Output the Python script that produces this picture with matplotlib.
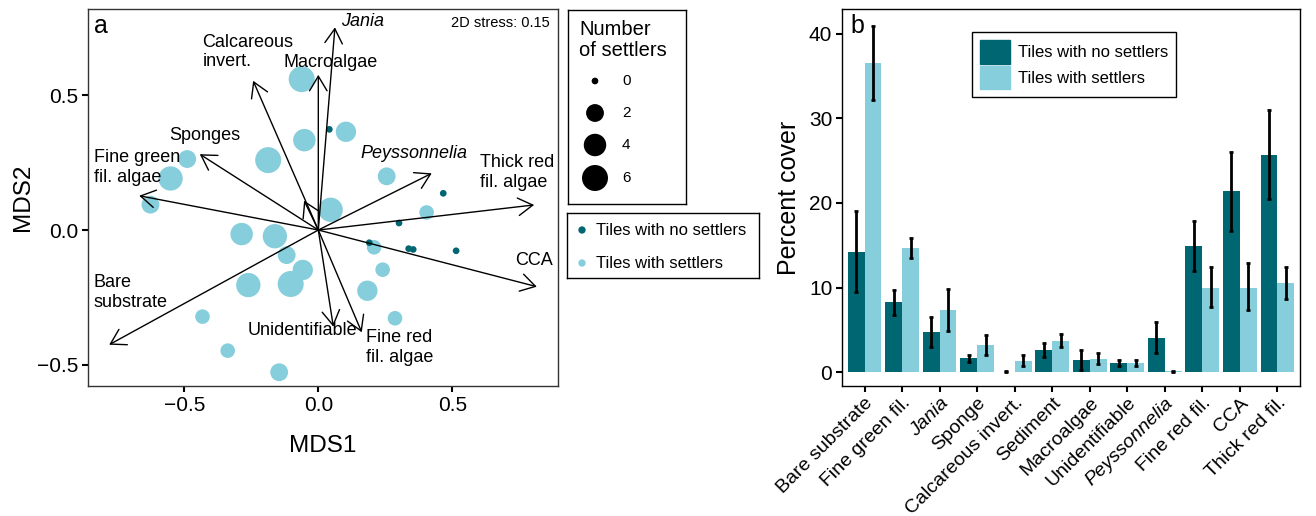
import numpy as np
import matplotlib
matplotlib.use('Agg')
import matplotlib.pyplot as plt
from matplotlib.patches import Patch

plt.rcParams['font.family'] = ['Liberation Sans', 'DejaVu Sans']

dark = '#006671'
light = '#86CEDC'

# panel a: NMDS site scores
nos_x = [0.041, 0.466, 0.301, 0.190, 0.337, 0.354, 0.514]
nos_y = [0.373, 0.136, 0.026, -0.047, -0.069, -0.072, -0.077]

set_x = [-0.062, 0.103, -0.052, -0.187, -0.489, -0.551, -0.626, 0.255, 0.046, 0.404, -0.286, -0.162,
         -0.118, -0.058, -0.261, -0.103, 0.208, 0.240, 0.183, 0.286, -0.432, -0.338, -0.146]
set_y = [0.559, 0.364, 0.333, 0.259, 0.263, 0.191, 0.094, 0.199, 0.075, 0.065, -0.015, -0.023,
         -0.093, -0.148, -0.204, -0.200, -0.064, -0.147, -0.225, -0.327, -0.321, -0.447, -0.527]
set_n = [6, 3, 4, 6, 2, 5, 2, 2, 5, 1, 4, 5, 2, 3, 5, 6, 1, 1, 3, 1, 1, 1, 2]

# species vectors
vec_names = ['Jania', 'Macroalgae', 'Calcareous\ninvert.', 'Sponges', 'Fine green\nfil. algae',
             'Bare\nsubstrate', 'Unidentifiable', 'Fine red\nfil. algae', 'CCA',
             'Thick red\nfil. algae', 'Peyssonnelia', '']
vec_x = [0.062, 0.0, -0.243, -0.442, -0.668, -0.780, 0.056, 0.162, 0.815, 0.805, 0.423, -0.053]
vec_y = [0.751, 0.575, 0.553, 0.281, 0.127, -0.425, -0.358, -0.379, -0.210, 0.093, 0.210, 0.109]

# label placement (x, y, ha) for each vector
lab_pos = [(0.165, 0.773, 'center'), (0.045, 0.622, 'center'), (-0.432, 0.660, 'left'),
           (-0.425, 0.352, 'center'), (-0.837, 0.232, 'left'), (-0.837, -0.231, 'left'),
           (-0.058, -0.373, 'center'), (0.178, -0.435, 'left'), (0.805, -0.114, 'center'),
           (0.603, 0.214, 'left'), (0.358, 0.285, 'center'), (0, 0, 'center')]

# panel b: percent cover
cats = ['Bare substrate', 'Fine green fil.', 'Jania', 'Sponge', 'Calcareous invert.', 'Sediment',
        'Macroalgae', 'Unidentifiable', 'Peyssonnelia', 'Fine red fil.', 'CCA', 'Thick red fil.']
no_mean = [14.2, 8.3, 4.8, 1.7, 0.05, 2.65, 1.45, 1.1, 4.05, 14.9, 21.4, 25.65]
no_lo = [9.5, 6.8, 3.0, 1.2, 0.0, 1.85, 0.3, 0.75, 2.25, 12.0, 16.7, 20.45]
no_hi = [19.0, 9.7, 6.5, 2.0, 0.1, 3.5, 2.6, 1.45, 5.9, 17.85, 26.0, 30.95]
yes_mean = [36.5, 14.7, 7.35, 3.2, 1.35, 3.7, 1.55, 1.1, 0.1, 10.0, 10.0, 10.5]
yes_lo = [32.1, 13.5, 4.9, 2.0, 0.7, 2.95, 1.0, 0.75, 0.05, 7.75, 7.35, 8.65]
yes_hi = [40.9, 15.9, 9.8, 4.4, 2.0, 4.5, 2.25, 1.45, 0.15, 12.4, 12.85, 12.45]


def msize(n):
    d = 6.7 + 7.88 * np.sqrt(np.asarray(n, dtype=float))  # diameter in px
    return (d * 0.72) ** 2


fig = plt.figure(figsize=(13.16, 5.16), dpi=100)

# ---------- panel a ----------
ax = fig.add_axes([88 / 1316, 130 / 516, 470 / 1316, 377 / 516])
ax.scatter(set_x, set_y, s=msize(set_n), color=light, linewidths=0, zorder=2)
ax.scatter(nos_x, nos_y, s=msize([0] * len(nos_x)), color=dark, linewidths=0, zorder=3)

for i in range(len(vec_x)):
    ax.annotate('', xy=(vec_x[i], vec_y[i]), xytext=(0, 0),
                arrowprops=dict(arrowstyle='->,head_length=0.5,head_width=0.3', mutation_scale=21,
                                lw=1, color='black', shrinkA=0, shrinkB=0), zorder=4)
    if vec_names[i]:
        style = 'italic' if vec_names[i] in ('Jania', 'Peyssonnelia') else 'normal'
        lx, ly, ha = lab_pos[i]
        ax.text(lx, ly, vec_names[i], ha=ha, va='center', fontsize=13, style=style,
                linespacing=1.2, zorder=5)

ax.text(0.983, 0.963, '2D stress: 0.15', transform=ax.transAxes, ha='right', va='center', fontsize=10.5)
ax.text(0.028, 0.955, 'a', transform=ax.transAxes, ha='center', va='center', fontsize=18)

ax.set_xlim(-0.859, 0.894)
ax.set_ylim(-0.578, 0.819)
ax.set_xticks([-0.5, 0.0, 0.5])
ax.set_yticks([-0.5, 0.0, 0.5])
ax.set_xlabel('MDS1', fontsize=17.5)
ax.set_ylabel('MDS2', fontsize=17.5)
ax.xaxis.set_label_coords(0.5, -0.13)
ax.yaxis.set_label_coords(-0.115, 0.5)
ax.tick_params(labelsize=15, length=4, width=1.5, pad=3)
for sp in ax.spines.values():
    sp.set_color('#333333')
    sp.set_linewidth(1)

# size legend
lg = fig.add_axes([568 / 1316, 312 / 516, 118 / 1316, 194 / 516])
lg.set_xlim(0, 118)
lg.set_ylim(194, 0)
lg.set_xticks([])
lg.set_yticks([])
for sp in lg.spines.values():
    sp.set_linewidth(1)
lg.text(11, 30, 'Number\nof settlers', ha='left', va='center', fontsize=14.5, linespacing=1.1)
key_n = [0, 2, 4, 6]
key_y = [71, 103, 135, 168]
lg.scatter([27] * 4, key_y, s=msize(key_n), color='black', linewidths=0)
for n, yy in zip(key_n, key_y):
    lg.text(54, yy, str(n), ha='left', va='center', fontsize=11)

# colour legend
cl = fig.add_axes([567 / 1316, 238 / 516, 192 / 1316, 65 / 516])
cl.set_xlim(0, 192)
cl.set_ylim(65, 0)
cl.set_xticks([])
cl.set_yticks([])
for sp in cl.spines.values():
    sp.set_linewidth(1)
cl.scatter([15, 15], [17, 50], s=msize([0, 0]) * 1.2, color=[dark, light], linewidths=0)
cl.text(29, 17, 'Tiles with no settlers', ha='left', va='center', fontsize=12)
cl.text(29, 50, 'Tiles with settlers', ha='left', va='center', fontsize=12)

# ---------- panel b ----------
bx = fig.add_axes([842 / 1316, 130 / 516, 458 / 1316, 377 / 516])
x = np.arange(len(cats))
w = 0.45
no_mean = np.array(no_mean)
yes_mean = np.array(yes_mean)
bx.bar(x - w / 2, no_mean, width=w, color=dark, zorder=2)
bx.bar(x + w / 2, yes_mean, width=w, color=light, zorder=2)
bx.errorbar(x - w / 2, no_mean, yerr=[no_mean - np.array(no_lo), np.array(no_hi) - no_mean],
            fmt='none', ecolor='black', elinewidth=2, capsize=1.5, capthick=2, zorder=3)
bx.errorbar(x + w / 2, yes_mean, yerr=[yes_mean - np.array(yes_lo), np.array(yes_hi) - yes_mean],
            fmt='none', ecolor='black', elinewidth=2, capsize=1.5, capthick=2, zorder=3)

bx.set_xlim(-0.6, len(cats) - 0.4)
bx.set_ylim(-1.62, 42.9)
bx.set_yticks([0, 10, 20, 30, 40])
bx.set_xticks(x)
bx.set_xticklabels(cats, rotation=45, ha='right', va='top', rotation_mode='anchor')
for t in bx.get_xticklabels():
    if t.get_text() in ('Jania', 'Peyssonnelia'):
        t.set_style('italic')
bx.tick_params(labelsize=15, length=4, width=1.5, pad=3)
bx.tick_params(axis='x', labelsize=14, pad=2)
bx.set_ylabel('Percent cover', fontsize=18)
bx.yaxis.set_label_coords(-0.09, 0.5)
for sp in bx.spines.values():
    sp.set_color('black')
    sp.set_linewidth(1)
bx.text(0.033, 0.955, 'b', transform=bx.transAxes, ha='center', va='center', fontsize=18)

bx.legend(handles=[Patch(color=dark, label='Tiles with no settlers'),
                   Patch(color=light, label='Tiles with settlers')],
          loc='upper left', bbox_to_anchor=(0.284, 0.939), fontsize=12, frameon=True, fancybox=False,
          edgecolor='black', framealpha=1, handlelength=1.75, handleheight=1.8, labelspacing=0.1,
          handletextpad=0.5, borderpad=0.5, borderaxespad=0)
bx.get_legend().get_frame().set_linewidth(1)

fig.savefig('out.png', dpi=100)
